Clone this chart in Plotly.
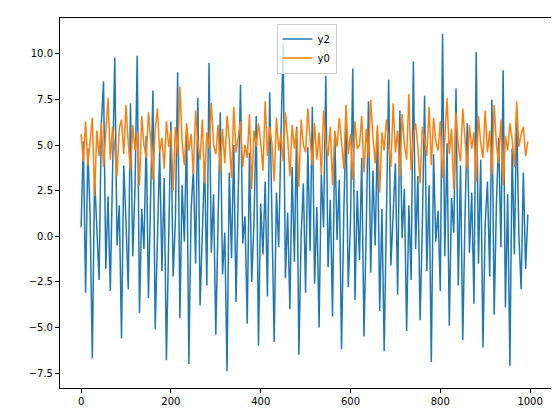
import plotly.graph_objects as go

y2 = [0.5,5.2,-3.1,4.8,1.2,-6.7,3.3,0.1,-2.4,6.1,
8.5,-1.8,2.2,-3.0,4.4,9.8,-0.5,1.7,-5.6,3.9,
0.8,-2.9,7.3,-1.1,2.6,9.9,-4.2,1.5,-0.7,5.5,
-3.4,2.1,8.0,-5.1,0.3,4.7,-1.9,3.2,-6.8,1.0,
6.3,-2.2,0.9,9.0,-4.5,2.8,-0.3,5.9,-7.0,1.4,
3.7,-1.5,7.6,-3.8,0.6,4.1,-2.7,9.5,-0.9,2.3,
-5.4,1.9,6.8,-2.1,0.2,-7.4,3.5,-1.2,5.0,-3.6,
2.7,8.3,-0.4,1.1,-4.8,4.6,-2.5,0.7,6.6,-6.0,
1.8,-1.0,3.0,-3.3,7.9,0.4,-5.8,2.4,-0.6,5.3,
10.6,-2.3,1.3,-4.0,3.8,-1.4,6.0,-6.5,0.0,2.9,
-3.1,4.9,-0.8,7.1,-2.6,1.6,-5.0,3.4,0.5,8.8,
-1.7,2.0,-4.4,5.7,-0.2,3.1,-6.2,1.2,6.4,-2.8,
0.8,9.2,-3.5,2.5,-1.3,4.3,-5.5,0.3,7.4,-2.0,
3.6,-0.5,5.8,-4.1,1.5,-6.3,2.2,8.6,-1.6,0.9,
4.0,-3.2,6.9,-0.1,2.6,-5.2,1.7,-2.4,9.6,-0.7,
3.3,-4.6,0.6,7.7,-1.9,2.8,-6.9,4.5,-0.3,1.4,
-3.0,11.1,-1.1,5.1,-4.9,2.1,0.2,8.1,-2.7,3.9,
-5.7,1.0,6.2,-0.9,2.4,-3.7,10.1,-1.5,4.2,-6.1,
0.7,3.0,-2.2,7.5,-4.3,1.8,5.4,-0.6,9.1,-3.9,
2.3,-7.1,4.8,-1.0,6.7,0.1,-2.9,3.5,-1.8,1.2]

y0 = [5.6,4.1,6.3,3.9,5.2,6.5,2.2,5.8,4.4,6.2,
3.8,5.5,7.6,4.2,6.0,4.8,3.3,5.9,6.4,4.5,
7.2,5.1,3.6,6.1,4.7,5.7,2.8,6.6,5.0,4.3,
6.8,5.3,3.1,5.9,7.0,4.6,5.4,3.7,6.3,4.9,
5.8,2.5,6.0,4.4,8.2,5.2,3.9,6.2,4.7,5.6,
3.4,6.9,5.1,4.2,6.4,2.9,5.7,4.8,7.3,5.0,
4.5,6.1,3.5,5.9,4.0,6.6,5.3,3.2,7.1,4.6,
5.5,6.3,3.8,5.0,4.3,6.7,2.6,5.8,4.9,6.2,
5.2,3.6,7.4,4.4,6.0,5.1,3.0,6.5,4.7,5.6,
4.1,6.8,5.4,3.3,6.1,4.8,5.9,2.7,6.4,5.0,
4.6,7.0,5.3,3.9,6.2,4.2,5.7,3.4,6.9,5.1,
4.4,6.0,2.8,5.8,4.9,6.5,5.2,3.7,7.2,4.5,
5.6,3.1,6.3,4.8,5.0,6.6,3.5,5.9,4.3,7.5,
5.4,4.0,6.1,2.4,5.7,4.7,6.4,5.1,3.8,7.3,
4.6,5.8,3.3,6.7,5.0,4.2,7.8,3.6,5.5,6.2,
4.9,2.9,6.0,5.3,4.4,7.1,3.9,6.5,5.2,4.7,
6.3,3.2,5.6,7.6,4.5,5.9,2.6,6.8,5.0,4.1,
7.0,5.4,3.7,6.1,4.8,5.7,3.0,6.6,5.1,4.3,
6.9,4.6,5.8,3.4,7.2,5.0,4.0,6.4,2.8,5.5,
4.7,6.2,5.3,3.8,7.4,4.9,5.6,6.0,4.4,5.2]

x = [i * 5 for i in range(len(y2))]

fig = go.Figure()
fig.add_trace(go.Scatter(x=x, y=y2, mode="lines", name="y2", line=dict(color="#1f77b4", width=1.5)))
fig.add_trace(go.Scatter(x=x, y=y0, mode="lines", name="y0", line=dict(color="#ff7f0e", width=1.5)))

ax = dict(showgrid=False, zeroline=False, showline=True, linecolor="black", linewidth=1,
          mirror=True, ticks="outside", ticklen=4, tickcolor="black")
fig.update_layout(
    width=559, height=413, margin=dict(l=52, r=14, t=10, b=33),
    paper_bgcolor="white", plot_bgcolor="white",
    font=dict(family="DejaVu Sans", size=10, color="black"),
    xaxis=dict(range=[-47, 1051], tickvals=[0, 200, 400, 600, 800, 1000], **ax),
    yaxis=dict(range=[-8.32, 11.97], tickvals=[-7.5, -5, -2.5, 0, 2.5, 5, 7.5, 10],
               tickformat=".1f", **ax),
    legend=dict(x=0.5, xanchor="center", y=0.985, yanchor="top", bordercolor="#cccccc",
                borderwidth=1, bgcolor="rgba(255,255,255,0.8)", font=dict(size=10)),
)
fig.write_html("out.html")
